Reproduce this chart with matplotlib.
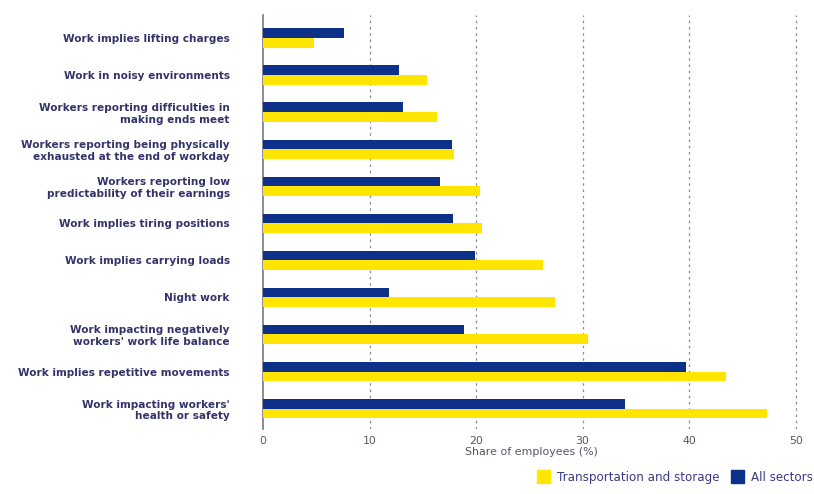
import matplotlib
matplotlib.use("Agg")
import matplotlib.pyplot as plt
from matplotlib.patches import Patch
import numpy as np

plt.rcParams["font.family"] = ["DejaVu Sans"]

categories = [
    "Work implies lifting charges",
    "Work in noisy environments",
    "Workers reporting difficulties in\nmaking ends meet",
    "Workers reporting being physically\nexhausted at the end of workday",
    "Workers reporting low\npredictability of their earnings",
    "Work implies tiring positions",
    "Work implies carrying loads",
    "Night work",
    "Work impacting negatively\nworkers' work life balance",
    "Work implies repetitive movements",
    "Work impacting workers'\nhealth or safety",
]
all_sectors = [7.6, 12.8, 13.1, 17.7, 16.6, 17.8, 19.9, 11.8, 18.9, 39.7, 34.0]
transport = [4.8, 15.4, 16.3, 17.9, 20.4, 20.6, 26.3, 27.4, 30.5, 43.5, 47.3]
xticks = [0, 10, 20, 30, 40, 50]

NAVY = "#0d3188"
YELLOW = "#ffe500"
TEXT = "#34346a"

fig = plt.figure(figsize=(8.14, 4.94), dpi=100)
ax = fig.add_axes([263/814, 1 - 429/494, (800-263)/814, (429-15)/494])

y = np.arange(len(categories))
h = 0.26
ax.barh(y - h/2, all_sectors, height=h, color=NAVY, zorder=3)
ax.barh(y + h/2, transport, height=h, color=YELLOW, zorder=3)

ax.set_ylim(len(categories) - 0.45, -0.62)
ax.set_xlim(0, 50.4)
ax.set_xticks(xticks)
ax.set_xticklabels([str(t) for t in xticks], fontsize=7.8, color="#555566")
ax.set_yticks(y)
ax.set_yticklabels(categories, fontsize=7.6, fontweight="bold", color=TEXT,
                   linespacing=1.2)
ax.tick_params(axis="y", length=0, pad=24)
ax.tick_params(axis="x", length=0, pad=5)
for t in xticks[1:]:
    ax.axvline(t, color="#8a8a9a", linestyle=(0, (2, 3)), linewidth=0.9, zorder=1)
for s in ["top", "right", "bottom"]:
    ax.spines[s].set_visible(False)
ax.spines["left"].set_color("#777788")
ax.spines["left"].set_linewidth(1.2)
ax.set_xlabel("Share of employees (%)", fontsize=7.9, color="#555566", labelpad=1)

handles = [Patch(color=YELLOW, label="Transportation and storage"),
           Patch(color=NAVY, label="All sectors")]
fig.legend(handles=handles, loc="center right", bbox_to_anchor=(1.0, 1 - 477/494),
           ncol=2, frameon=False, fontsize=8.6, labelcolor="#3a3a88",
           borderaxespad=0.0, borderpad=0.1,
           handlelength=1.1, handleheight=1.3, handletextpad=0.6, columnspacing=0.9)

fig.savefig("out.png", dpi=100)
